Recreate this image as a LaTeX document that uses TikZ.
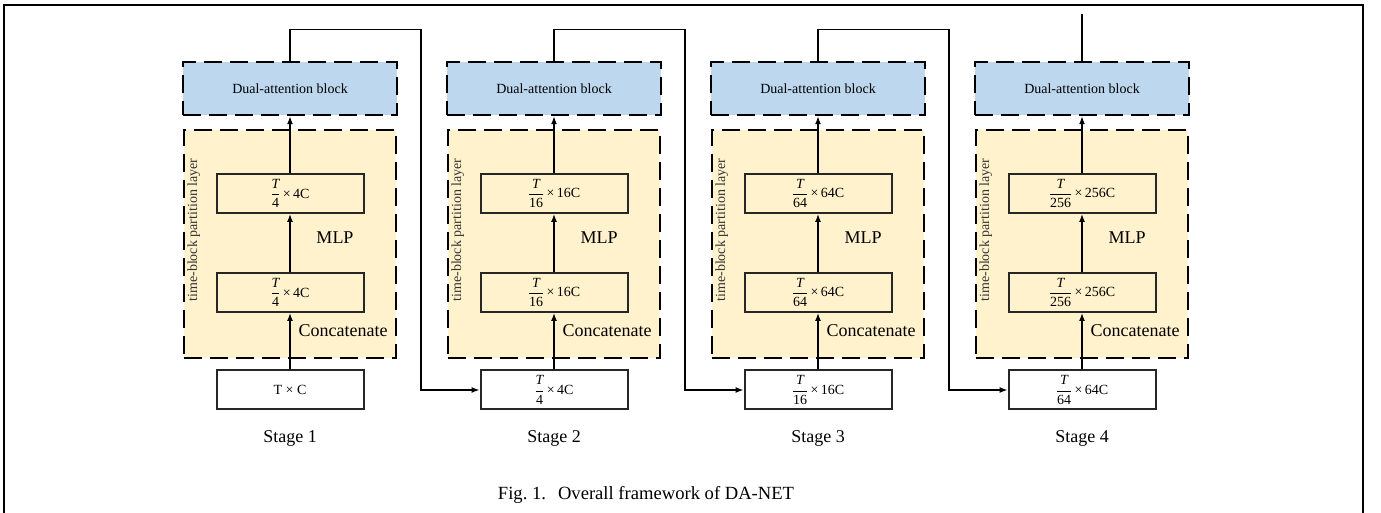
\documentclass[tikz,border=0pt]{standalone}
\usepackage{fontspec}
\setmainfont{Liberation Serif}
\usepackage{tikz}
\usetikzlibrary{calc}
\usetikzlibrary{arrows.meta,positioning}
\definecolor{dablue}{HTML}{BDD7EE}
\definecolor{tbyellow}{HTML}{FFF2CC}
\tikzstyle{dablock} = [rectangle, minimum width=214pt, minimum height=53pt, text centered, fill=dablue, draw=black, line width=2.5pt, dash pattern=on 18pt off 8pt, font=\fontsize{14}{16}\selectfont]
\tikzstyle{partition} = [rectangle, minimum width=212pt, minimum height=228pt, fill=tbyellow, draw=black, line width=2.5pt, dash pattern=on 18pt off 8pt]
\tikzstyle{dimbox} = [rectangle, minimum width=147pt, minimum height=39pt, inner sep=1pt, text centered, draw=black!85, line width=2pt, font=\fontsize{14}{16}\selectfont]
\tikzstyle{inbox} = [dimbox, fill=white]
\tikzstyle{sidetext} = [rotate=90, font=\fontsize{14}{16}\selectfont, text=black!80]
\tikzstyle{bigtext} = [font=\fontsize{18}{20}\selectfont]
\tikzstyle{line} = [draw, line width=1.3pt, -{Latex[length=8pt,width=6pt]}]
\tikzstyle{link} = [draw, line width=1.3pt]
\tikzstyle{frame} = [draw, line width=1.8pt]
\newcommand{\dimfrac}[2]{$\displaystyle\frac{\textit{T}}{\textrm{#1}}$\,×\,#2C}

\begin{document}
\begin{tikzpicture}[x=1pt,y=1pt]
  \useasboundingbox (0,0) rectangle (1381,513);
  \draw [frame] (4,0) -- (4,508) -- (1363,508) -- (1363,0);

  % stage 1
  \node (da1) [dablock] at (290,424.5) {Dual-attention block};
  \node (tb1) [partition, below of=da1, node distance=155.5pt] {};
  \node (up1) [dimbox, below of=da1, node distance=105pt] {\dimfrac{4}{4}};
  \node (lo1) [dimbox, below of=up1, node distance=99pt] {\dimfrac{4}{4}};
  \node (in1) [inbox, below of=lo1, node distance=97.5pt] {T × C};
  \node (st1) [bigtext, below of=in1, node distance=48pt] {Stage 1};
  \node (lbl1) [sidetext] at ($(tb1.west)+(11,14)$) {time-block partition layer};
  \node (mlp1) [bigtext] at ($(up1.south)+(45,-24)$) {MLP};
  \node (cat1) [bigtext, anchor=west] at ($(lo1.south)+(5,-18)$) {Concatenate};
  \draw [line] (in1) -- (lo1);
  \draw [line] (lo1) -- (up1);
  \draw [line] (up1) -- (da1);

  % stage 2
  \node (da2) [dablock, right of=da1, node distance=264pt] {Dual-attention block};
  \node (tb2) [partition, below of=da2, node distance=155.5pt] {};
  \node (up2) [dimbox, below of=da2, node distance=105pt] {\dimfrac{16}{16}};
  \node (lo2) [dimbox, below of=up2, node distance=99pt] {\dimfrac{16}{16}};
  \node (in2) [inbox, below of=lo2, node distance=97.5pt] {\dimfrac{4}{4}};
  \node (st2) [bigtext, below of=in2, node distance=48pt] {Stage 2};
  \node (lbl2) [sidetext] at ($(tb2.west)+(11,14)$) {time-block partition layer};
  \node (mlp2) [bigtext] at ($(up2.south)+(45,-24)$) {MLP};
  \node (cat2) [bigtext, anchor=west] at ($(lo2.south)+(5,-18)$) {Concatenate};
  \draw [line] (in2) -- (lo2);
  \draw [line] (lo2) -- (up2);
  \draw [line] (up2) -- (da2);

  % stage 3
  \node (da3) [dablock, right of=da2, node distance=264pt] {Dual-attention block};
  \node (tb3) [partition, below of=da3, node distance=155.5pt] {};
  \node (up3) [dimbox, below of=da3, node distance=105pt] {\dimfrac{64}{64}};
  \node (lo3) [dimbox, below of=up3, node distance=99pt] {\dimfrac{64}{64}};
  \node (in3) [inbox, below of=lo3, node distance=97.5pt] {\dimfrac{16}{16}};
  \node (st3) [bigtext, below of=in3, node distance=48pt] {Stage 3};
  \node (lbl3) [sidetext] at ($(tb3.west)+(11,14)$) {time-block partition layer};
  \node (mlp3) [bigtext] at ($(up3.south)+(45,-24)$) {MLP};
  \node (cat3) [bigtext, anchor=west] at ($(lo3.south)+(5,-18)$) {Concatenate};
  \draw [line] (in3) -- (lo3);
  \draw [line] (lo3) -- (up3);
  \draw [line] (up3) -- (da3);

  % stage 4
  \node (da4) [dablock, right of=da3, node distance=264pt] {Dual-attention block};
  \node (tb4) [partition, below of=da4, node distance=155.5pt] {};
  \node (up4) [dimbox, below of=da4, node distance=105pt] {\dimfrac{256}{256}};
  \node (lo4) [dimbox, below of=up4, node distance=99pt] {\dimfrac{256}{256}};
  \node (in4) [inbox, below of=lo4, node distance=97.5pt] {\dimfrac{64}{64}};
  \node (st4) [bigtext, below of=in4, node distance=48pt] {Stage 4};
  \node (lbl4) [sidetext] at ($(tb4.west)+(11,14)$) {time-block partition layer};
  \node (mlp4) [bigtext] at ($(up4.south)+(45,-24)$) {MLP};
  \node (cat4) [bigtext, anchor=west] at ($(lo4.south)+(5,-18)$) {Concatenate};
  \draw [line] (in4) -- (lo4);
  \draw [line] (lo4) -- (up4);
  \draw [line] (up4) -- (da4);

  % stage to stage
  \path [line] (da1.north) -- ++(0,31) -| ($(in2.west)+(-58.5,0)$) -- (in2.west);
  \path [line] (da2.north) -- ++(0,31) -| ($(in3.west)+(-58.5,0)$) -- (in3.west);
  \path [line] (da3.north) -- ++(0,31) -| ($(in4.west)+(-58.5,0)$) -- (in4.west);
  \coordinate (out4) at ($(da4.north)+(0,47)$);
  \path [link] (da4.north) -- (out4);

  \node (cap) [font=\fontsize{18.6}{20}\selectfont] at (646,18) {Fig.~1.\hspace{12pt}Overall framework of DA-NET};
\end{tikzpicture}
\end{document}
